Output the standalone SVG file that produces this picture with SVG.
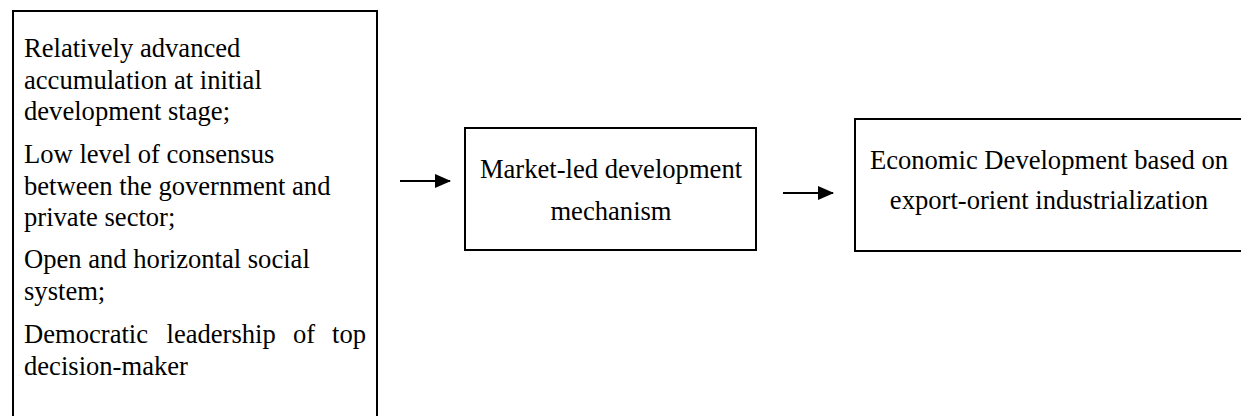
<svg xmlns="http://www.w3.org/2000/svg" width="1241" height="416" viewBox="0 0 1241 416">
  <style>
    .box { fill: #ffffff; stroke: #000000; stroke-width: 2; }
    .t { font-family: "Liberation Serif", "Times New Roman", serif; font-size: 26.6px; fill: #000000; }
    .c { text-anchor: middle; }
    .conn { stroke: #000000; stroke-width: 2; fill: none; }
  </style>
  <defs>
    <marker id="arrow" markerUnits="userSpaceOnUse" markerWidth="16" markerHeight="14" refX="15" refY="7" orient="auto">
      <path d="M0,0 L16,7 L0,14 Z" fill="#000000"/>
    </marker>
  </defs>
  <rect width="1241" height="416" fill="#ffffff"/>

  <g id="node-conditions">
    <rect class="box" x="13" y="11" width="364" height="420"/>
    <text class="t" x="24" y="57">Relatively advanced</text>
    <text class="t" x="24" y="88.5">accumulation at initial</text>
    <text class="t" x="24" y="120">development stage;</text>
    <text class="t" x="24" y="163">Low level of consensus</text>
    <text class="t" x="24" y="194.5">between the government and</text>
    <text class="t" x="24" y="226">private sector;</text>
    <text class="t" x="24" y="268">Open and horizontal social</text>
    <text class="t" x="24" y="299.5">system;</text>
    <text class="t" y="343"><tspan x="24">Democratic</tspan><tspan x="166.5">leadership</tspan><tspan x="293">of</tspan><tspan x="332">top</tspan></text>
    <text class="t" x="24" y="374.5">decision-maker</text>
  </g>

  <g id="node-mechanism">
    <rect class="box" x="465" y="128" width="291" height="122"/>
    <text class="t c" x="611" y="178">Market-led development</text>
    <text class="t c" x="611" y="220">mechanism</text>
  </g>

  <g id="node-development">
    <rect class="box" x="855" y="119" width="400" height="132"/>
    <text class="t c" x="1049" y="169">Economic Development based on</text>
    <text class="t c" x="1049" y="209">export-orient industrialization</text>
  </g>

  <g id="connectors">
    <line class="conn" x1="400" y1="181" x2="450" y2="181" marker-end="url(#arrow)"/>
    <line class="conn" x1="783" y1="193" x2="833" y2="193" marker-end="url(#arrow)"/>
  </g>
</svg>
